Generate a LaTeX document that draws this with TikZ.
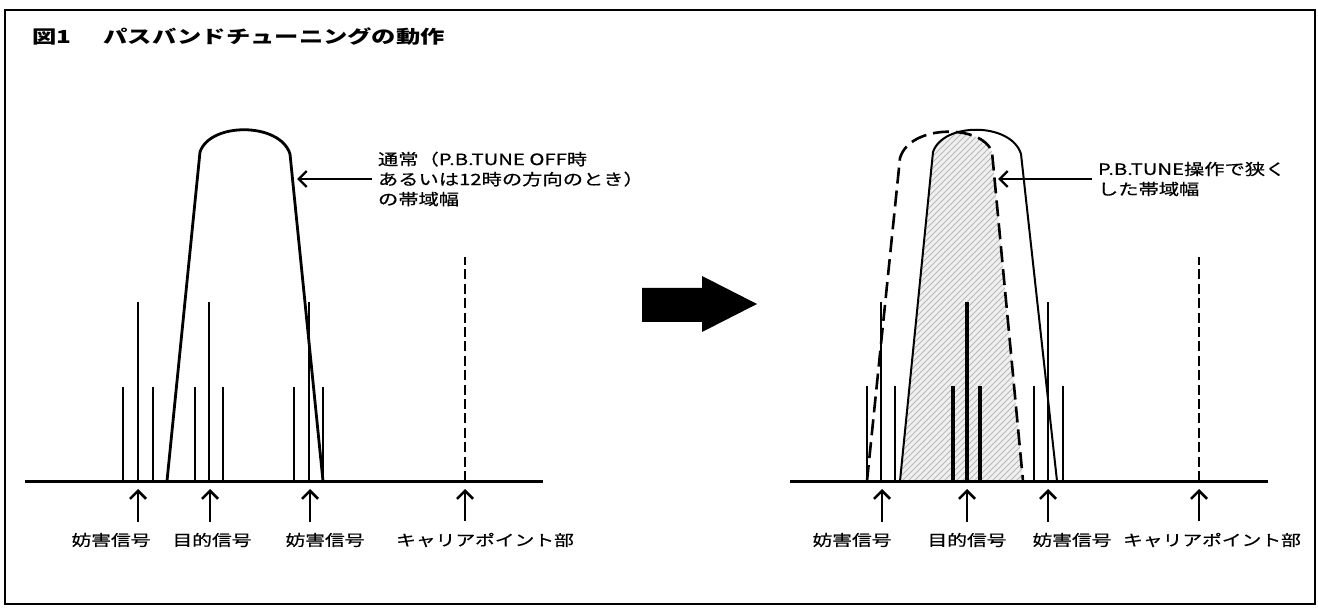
\documentclass[tikz,border=0pt]{standalone}
\usepackage{fontspec}
\newfontfamily\jpfont[FakeStretch=1.3, FakeBold=0.6]{Noto Sans CJK JP}
\newfontfamily\jptitle[FakeStretch=1.35]{Noto Sans CJK JP}
\usetikzlibrary{arrows.meta, patterns}

\begin{document}
\begin{tikzpicture}[
    x=0.5pt, y=-0.5pt,
    >={Straight Barb[length=4pt, width=8pt]},
    sig/.style={font=\jpfont\fontsize{7.6}{9}\selectfont, inner sep=0pt},
    memo/.style={font=\jpfont\fontsize{7.8}{10}\selectfont, align=left, inner sep=0pt, outer sep=3pt, anchor=west},
    spike/.style={line width=1.2pt},
    fat/.style={line width=1.8pt},
    freqaxis/.style={line width=1.5pt},
    bell/.style={line width=1.4pt, line join=round},
    carrier/.style={line width=1.1pt, dash pattern=on 5pt off 2.2pt},
    oldbell/.style={line width=1.3pt, dash pattern=on 8pt off 3.5pt, line join=round},
    uparr/.style={->, line width=1.3pt}
]
    \useasboundingbox (0,0) rectangle (1318,609);
    \draw[line width=0.9pt] (5,10) rectangle (1315,604);
    \node[anchor=west, font=\jptitle\bfseries\fontsize{9}{10}\selectfont, inner sep=0pt] (title) at (32,37) {図1\hspace{16pt}パスバンドチューニングの動作};

    % normal passband
    \draw[freqaxis] (25,481) -- (543,481);
    \foreach \x in {123,153,195,223,294,323}
        \draw[spike] (\x,481) -- (\x,387);
    \foreach \x in {138,209,309}
        \draw[spike] (\x,481) -- (\x,302);
    \draw[carrier] (465,481) -- (465,257);
    \draw[bell] (167,481) -- (200,152) .. controls (210,122) and (280,122) .. (290,154) -- (323,481);

    \node[memo] (normal) at (372,179) {通常（P.B.TUNE OFF時\\あるいは12時の方向のとき）\\の帯域幅};
    \coordinate (normal_tip) at (297,179);
    \draw[->, line width=1.2pt] (normal.west) -- (normal_tip);

    % big arrow
    \fill (642,288) -- (702,288) -- (702,276) -- (757,304) -- (702,332) -- (702,322) -- (642,322) -- cycle;

    % narrowed passband
    \begin{scope}
        \clip (867,481) -- (900,158) .. controls (910,124) and (982,124) .. (992,152) -- (1023,481) -- cycle;
        \fill[gray!12] (900,481) -- (933,152) .. controls (943,122) and (1011,122) .. (1021,154) -- (1057,481) -- cycle;
        \fill[pattern=north east lines, pattern color=gray!55] (900,481) -- (933,152) .. controls (943,122) and (1011,122) .. (1021,154) -- (1057,481) -- cycle;
    \end{scope}
    \draw[freqaxis] (790,481) -- (1268,481);
    \foreach \x in {867,895,1034,1063}
        \draw[spike] (\x,481) -- (\x,386);
    \foreach \x in {953,980}
        \draw[fat] (\x,481) -- (\x,386);
    \foreach \x in {881,1048}
        \draw[spike] (\x,481) -- (\x,302);
    \draw[fat] (967,481) -- (967,302);
    \draw[carrier] (1199,481) -- (1199,257);
    \draw[oldbell] (867,481) -- (900,158) .. controls (910,124) and (982,124) .. (992,152) -- (1023,481);
    \draw[bell, line width=1pt] (900,481) -- (933,152) .. controls (943,122) and (1011,122) .. (1021,154) -- (1057,481);

    \node[memo] (narrow) at (1092,179) {P.B.TUNE操作で狭く\\した帯域幅};
    \coordinate (narrow_tip) at (998,179);
    \draw[->, line width=1.2pt] (narrow.west) -- (narrow_tip);

    % signal labels
    \node[sig] (int_l1) at (111,540) {妨害信号};
    \node[sig] (tgt_l) at (212,540) {目的信号};
    \node[sig] (int_l2) at (325,540) {妨害信号};
    \node[sig] (car_l) at (485,540) {キャリアポイント部};
    \node[sig] (int_r1) at (852,540) {妨害信号};
    \node[sig] (tgt_r) at (967,540) {目的信号};
    \node[sig] (int_r2) at (1072,540) {妨害信号};
    \node[sig] (car_r) at (1212,540) {キャリアポイント部};

    \coordinate (tip_l1) at (138,489);
    \coordinate (tip_l2) at (210,489);
    \coordinate (tip_l3) at (310,489);
    \coordinate (tip_l4) at (465,489);
    \coordinate (tip_r1) at (882,489);
    \coordinate (tip_r2) at (967,489);
    \coordinate (tip_r3) at (1048,489);
    \coordinate (tip_r4) at (1199,489);

    \foreach \lab/\tip in {int_l1/tip_l1, tgt_l/tip_l2, int_l2/tip_l3, car_l/tip_l4, int_r1/tip_r1, tgt_r/tip_r2, int_r2/tip_r3, car_r/tip_r4}
        \draw[uparr, shorten <=5.5pt] (\lab.north -| \tip) -- (\tip);

\end{tikzpicture}
\end{document}
